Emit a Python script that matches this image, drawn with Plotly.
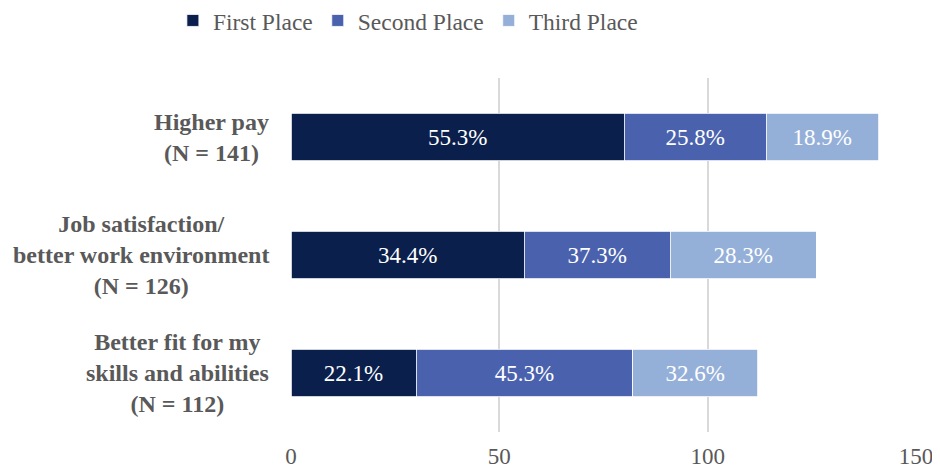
import plotly.graph_objects as go

# Reasons, top to bottom
categories = ["Higher pay", "Job satisfaction", "Better fit"]
label_text = [
    "Higher pay<br>(N = 141)",
    "Job satisfaction/<br>better work environment<br>(N = 126)",
    "Better fit for my<br>skills and abilities<br>(N = 112)",
]

# Segment lengths as drawn (respondents) and the percentage labels shown on them
first_place = [80, 56, 30]
second_place = [34, 35, 52]
third_place = [27, 35, 30]
first_pct = ["55.3%", "34.4%", "22.1%"]
second_pct = ["25.8%", "37.3%", "45.3%"]
third_pct = ["18.9%", "28.3%", "32.6%"]

x_ticks = [0, 50, 100, 150]

FONT = "Liberation Serif"
GREY = "#595959"

series = [
    ("First Place", first_place, first_pct, "#0B1F4C"),
    ("Second Place", second_place, second_pct, "#4A62AD"),
    ("Third Place", third_place, third_pct, "#95B0D8"),
]

fig = go.Figure()

for name, vals, pct, color in series:
    fig.add_trace(go.Bar(
        y=categories, x=vals, name=name, orientation="h",
        marker=dict(color=color, line=dict(color="white", width=0.8)),
        text=pct, textposition="inside", insidetextanchor="middle",
        textangle=0, constraintext="none",
        insidetextfont=dict(family=FONT, size=23, color="white"),
        hoverinfo="skip",
    ))

# Category labels: centred multi-line blocks, right edge near the axis
for cat, lab in zip(categories, label_text):
    fig.add_annotation(
        x=0, xref="paper", xshift=-20, y=cat, yref="y",
        text=f"<b>{lab}</b>", showarrow=False,
        xanchor="right", yanchor="middle", align="center",
        font=dict(family=FONT, size=24, color=GREY),
    )

# page body adds an 8px margin, so the figure is 8px smaller each way
fig.update_layout(
    width=932, height=466,
    margin=dict(l=283, r=24, t=70, b=42, autoexpand=False),
    barmode="stack", bargap=0.6,
    plot_bgcolor="white", paper_bgcolor="white",
    font=dict(family=FONT, color=GREY),
    legend=dict(
        orientation="h", x=-0.189, xanchor="left", y=1.162, yanchor="middle",
        font=dict(family=FONT, size=23.5, color=GREY),
        bgcolor="rgba(0,0,0,0)", traceorder="normal",
    ),
)

fig.update_xaxes(
    range=[0, 150], tickvals=x_ticks, showgrid=True,
    gridcolor="#D9D9D9", gridwidth=1.5, zeroline=False, showline=False,
    ticks="", ticklabelstandoff=8, automargin=False,
    tickfont=dict(family=FONT, size=23, color=GREY),
)
fig.update_yaxes(
    categoryorder="array", categoryarray=categories[::-1],
    showticklabels=False, showgrid=False, zeroline=False, showline=False,
    automargin=False,
)

fig.write_html("out.html")
